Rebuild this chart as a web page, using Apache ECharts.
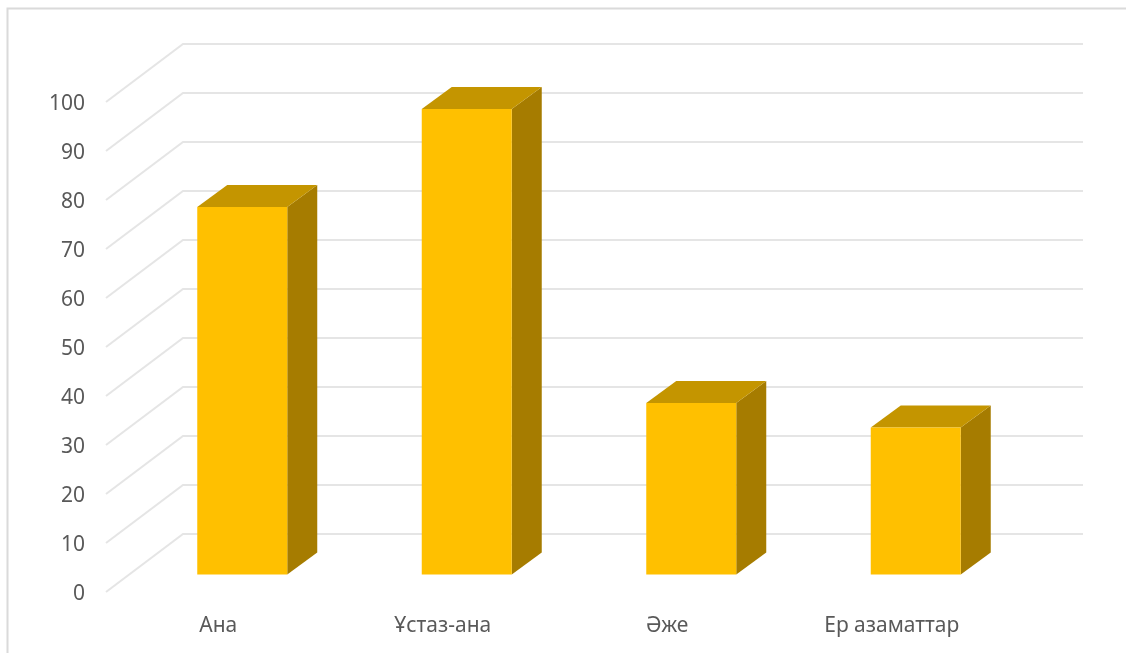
<!DOCTYPE html>
<html>
<head>
<meta charset="utf-8">
<style>html,body{margin:0;padding:0;background:#fff}#chart{width:1126px;height:653px}</style>
<script src="https://cdn.jsdelivr.net/npm/echarts@6/dist/echarts.min.js"></script>
</head>
<body>
<div id="chart"></div>
<script>
const categories = ['Ана', 'Ұстаз-ана', 'Әже', 'Ер азаматтар'];
const values = [75, 95, 35, 30];
const yTicks = [0, 10, 20, 30, 40, 50, 60, 70, 80, 90, 100];

const FONT = '"Noto Sans", sans-serif';
const WALL = {dx: 77, dy: 58, rightEnd: 1083};
const BAR = {inX: 24, inY: 17.5, width: 90, dx: 30, dy: 22};

const chart = echarts.init(document.getElementById('chart'), null, {renderer: 'canvas'});

function renderWall(params, api) {
  const cs = params.coordSys;
  const y = api.coord([0, api.value(1)])[1];
  const x0 = cs.x, x1 = cs.x + WALL.dx, x2 = WALL.rightEnd;
  return {
    type: 'polyline',
    shape: {points: [[x0, y], [x1, y - WALL.dy], [x2, y - WALL.dy]]},
    style: {stroke: '#E5E5E5', lineWidth: 2, fill: null}
  };
}

function renderBar(params, api) {
  const idx = api.value(0), val = api.value(1);
  const top = api.coord([idx, val]);
  const base = api.coord([idx, 0]);
  const l = top[0] + BAR.inX - BAR.width / 2;
  const r = l + BAR.width;
  const t = top[1] - BAR.inY;
  const b = base[1] - BAR.inY;
  const d = BAR.dx, e = BAR.dy;
  return {
    type: 'group',
    children: [
      {type: 'polygon', shape: {points: [[r, t], [r + d, t - e], [r + d, b - e], [r, b]]}, style: {fill: '#A67C00'}},
      {type: 'polygon', shape: {points: [[l, t], [l + d, t - e], [r + d, t - e], [r, t]]}, style: {fill: '#C49500'}},
      {type: 'polygon', shape: {points: [[l, t], [r, t], [r, b], [l, b]]}, style: {fill: '#FFC000'}}
    ]
  };
}

chart.setOption({
  animation: false,
  backgroundColor: '#fff',
  grid: {left: 106, top: 102, width: 898, height: 490},
  graphic: [{
    type: 'polyline',
    silent: true,
    shape: {points: [[7.5, 653], [7.5, 8.5], [1126, 8.5]]},
    style: {stroke: '#DADADA', lineWidth: 2, fill: null}
  }],
  xAxis: {
    type: 'category',
    data: categories,
    axisLine: {show: false},
    axisTick: {show: false},
    splitLine: {show: false},
    axisLabel: {color: '#595959', fontSize: 21, fontFamily: FONT, margin: 24, interval: 0}
  },
  yAxis: {
    type: 'value',
    min: 0,
    max: 100,
    interval: 10,
    axisLine: {show: false},
    axisTick: {show: false},
    splitLine: {show: false},
    axisLabel: {color: '#595959', fontSize: 21, fontFamily: FONT, margin: 21, verticalAlign: 'top', lineHeight: 5}
  },
  series: [
    {
      type: 'custom',
      name: 'wall',
      z: 1,
      silent: true,
      renderItem: renderWall,
      encode: {x: 0, y: 1},
      data: yTicks.map(v => [0, v])
    },
    {
      type: 'custom',
      name: 'values',
      z: 2,
      renderItem: renderBar,
      encode: {x: 0, y: 1},
      data: values.map((v, i) => [i, v])
    }
  ]
});
</script>
</body>
</html>
